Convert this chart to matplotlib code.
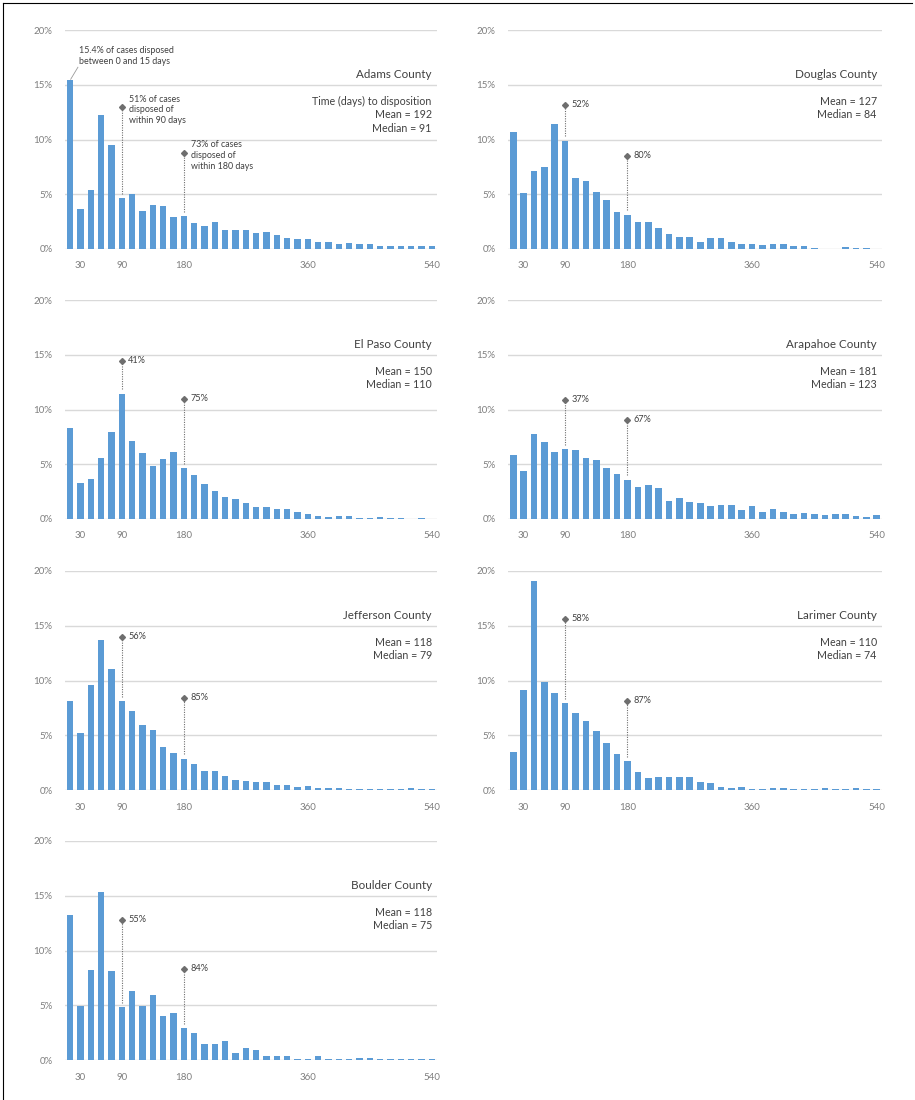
import matplotlib
matplotlib.use("Agg")
import matplotlib.pyplot as plt
from matplotlib.lines import Line2D

plt.rcParams["font.family"] = ["Lato", "DejaVu Sans"]

# 15-day bins, labelled by the last day of each bin
bin_end_days = list(range(15, 541, 15))
tick_days = [30, 90, 180, 360, 540]

counties = ["Adams County", "Douglas County", "El Paso County", "Arapahoe County",
            "Jefferson County", "Larimer County", "Boulder County"]

# Share of cases (%) disposed within each 15-day bin
adams = [15.4, 3.65, 5.35, 12.2, 9.5, 4.65, 5.05, 3.5, 4.0, 3.95, 2.9, 3.0,
         2.35, 2.1, 2.5, 1.7, 1.75, 1.75, 1.5, 1.55, 1.3, 1.0, 0.95, 0.9,
         0.65, 0.6, 0.45, 0.55, 0.45, 0.45, 0.3, 0.3, 0.25, 0.25, 0.25, 0.3]
douglas = [10.7, 5.15, 7.15, 7.5, 11.45, 9.9, 6.45, 6.2, 5.2, 4.45, 3.35, 3.15,
           2.45, 2.5, 1.95, 1.4, 1.1, 1.1, 0.6, 1.05, 1.05, 0.65, 0.5, 0.45,
           0.35, 0.5, 0.5, 0.3, 0.3, 0.1, 0.0, 0.0, 0.2, 0.1, 0.1, 0.0]
el_paso = [8.3, 3.25, 3.65, 5.6, 7.9, 11.45, 7.1, 6.0, 4.8, 5.5, 6.1, 4.65,
           4.05, 3.2, 2.55, 2.0, 1.8, 1.45, 1.1, 1.1, 0.95, 0.95, 0.65, 0.5,
           0.3, 0.2, 0.3, 0.3, 0.12, 0.12, 0.15, 0.12, 0.12, 0.0, 0.12, 0.0]
arapahoe = [5.8, 4.4, 7.75, 7.0, 6.15, 6.35, 6.3, 5.6, 5.4, 4.7, 4.15, 3.6,
            2.95, 3.15, 2.85, 1.65, 1.9, 1.55, 1.45, 1.2, 1.25, 1.25, 0.85, 1.2,
            0.65, 0.95, 0.65, 0.5, 0.55, 0.5, 0.4, 0.5, 0.5, 0.3, 0.2, 0.4]
jefferson = [8.1, 5.25, 9.6, 13.7, 11.05, 8.1, 7.25, 5.95, 5.45, 3.95, 3.4, 2.85,
             2.35, 1.75, 1.75, 1.25, 0.9, 0.8, 0.7, 0.7, 0.45, 0.45, 0.3, 0.35,
             0.2, 0.2, 0.2, 0.12, 0.1, 0.1, 0.1, 0.1, 0.1, 0.15, 0.1, 0.1]
larimer = [3.45, 9.1, 19.1, 9.9, 8.85, 7.9, 7.0, 6.3, 5.4, 4.3, 3.25, 2.65,
           1.65, 1.1, 1.15, 1.15, 1.15, 1.15, 0.7, 0.6, 0.27, 0.2, 0.27, 0.12,
           0.12, 0.18, 0.15, 0.08, 0.12, 0.08, 0.18, 0.08, 0.08, 0.15, 0.12, 0.08]
boulder = [13.2, 4.9, 8.25, 15.3, 8.15, 4.8, 6.3, 4.95, 5.9, 4.0, 4.3, 2.9,
           2.5, 1.45, 1.5, 1.7, 0.65, 1.1, 0.9, 0.4, 0.4, 0.4, 0.1, 0.1,
           0.33, 0.1, 0.08, 0.08, 0.18, 0.18, 0.08, 0.08, 0.08, 0.08, 0.08, 0.08]

mean_days = [192, 127, 150, 181, 118, 110, 118]
median_days = [91, 84, 110, 123, 79, 74, 75]
within_90_pct = [51, 52, 41, 37, 56, 58, 55]
within_180_pct = [73, 80, 75, 67, 85, 87, 84]

series = [adams, douglas, el_paso, arapahoe, jefferson, larimer, boulder]

# Heights (in %) of the diamond callouts above the 90- and 180-day bars
callout_y = [(12.95, 8.8), (13.15, 8.5), (14.4, 11.0), (10.9, 9.0),
             (14.0, 8.4), (15.6, 8.1), (12.75, 8.35)]

BAR = "#5B9BD5"
GRID = "#D9D9D9"
TICK = "#7F7F7F"
TEXT = "#404040"
MARK = "#6E6E6E"

W, H = 915, 1100
fig = plt.figure(figsize=(W / 100, H / 100), dpi=100)

col_left = [65, 508]
col_width = [372, 374]
row_base = [249, 519, 790, 1060]
ax_h = 219

x = list(range(len(bin_end_days)))
tick_pos = [bin_end_days.index(d) for d in tick_days]

for k, (name, vals) in enumerate(zip(counties, series)):
    r, c = divmod(k, 2)
    ax = fig.add_axes([col_left[c] / W, 1 - row_base[r] / H,
                       col_width[c] / W, ax_h / H])
    ax.bar(x, vals, width=0.64, color=BAR, zorder=2)
    ax.set_xlim(-0.5, len(x) - 0.5)
    ax.set_ylim(0, 20)
    ax.set_yticks([0, 5, 10, 15, 20])
    ax.set_yticklabels([f"{v}%" for v in [0, 5, 10, 15, 20]])
    ax.set_xticks(tick_pos)
    ax.set_xticklabels([str(d) for d in tick_days])
    ax.yaxis.grid(True, color=GRID, linewidth=1.0, zorder=0)
    ax.set_axisbelow(True)
    for s in ax.spines.values():
        s.set_visible(False)
    ax.tick_params(axis="both", length=0, labelsize=7.0, colors=TICK)
    ax.tick_params(axis="y", pad=9)
    ax.tick_params(axis="x", pad=9)

    right = len(x) - 1.0
    ax.text(right, 15.9, name, ha="right", va="center", fontsize=8.4, color=TEXT)
    stats_top = 13.5
    lines = []
    if k == 0:
        lines.append("Time (days) to disposition")
    lines += [f"Mean = {mean_days[k]}", f"Median = {median_days[k]}"]
    for j, line in enumerate(lines):
        ax.text(right, stats_top - 1.25 * j, line, ha="right", va="center",
                fontsize=7.7, color=TEXT)

    # Callouts for the share disposed within 90 and 180 days
    for day, pct, ymark in zip((90, 180), (within_90_pct[k], within_180_pct[k]),
                               callout_y[k]):
        i = bin_end_days.index(day)
        ax.plot([i, i], [vals[i] + 0.4, ymark], color=MARK, linewidth=0.8,
                linestyle=(0, (1, 1.2)), zorder=3)
        ax.plot([i], [ymark], marker="D", markersize=3.0, color=MARK, zorder=4)
        if k == 0:
            label = (f"{pct}% of cases\ndisposed of\nwithin {day} days")
            ax.text(i + 0.7, ymark - 0.25, label, ha="left", va="center",
                    fontsize=6.4, color=TEXT, linespacing=1.25)
        else:
            ax.text(i + 0.6, ymark + 0.05, f"{pct}%", ha="left", va="center",
                    fontsize=6.6, color=TEXT)

    if k == 0:
        ax.plot([0.05, 0.75], [vals[0] + 0.1, 16.6], color="#9A9A9A", linewidth=0.6,
                zorder=3)
        ax.text(0.85, 17.6, f"{vals[0]}% of cases disposed\nbetween 0 and 15 days",
                ha="left", va="center", fontsize=6.4, color=TEXT, linespacing=1.25)

# Page frame along the left and top edges
fig.add_artist(Line2D([3 / W, 3 / W], [0, 1 - 3 / H], color="#000000", linewidth=0.8))
fig.add_artist(Line2D([3 / W, 912 / W], [1 - 3 / H, 1 - 3 / H], color="#000000",
                      linewidth=0.8))

fig.savefig("out.png", dpi=100, facecolor="white")
